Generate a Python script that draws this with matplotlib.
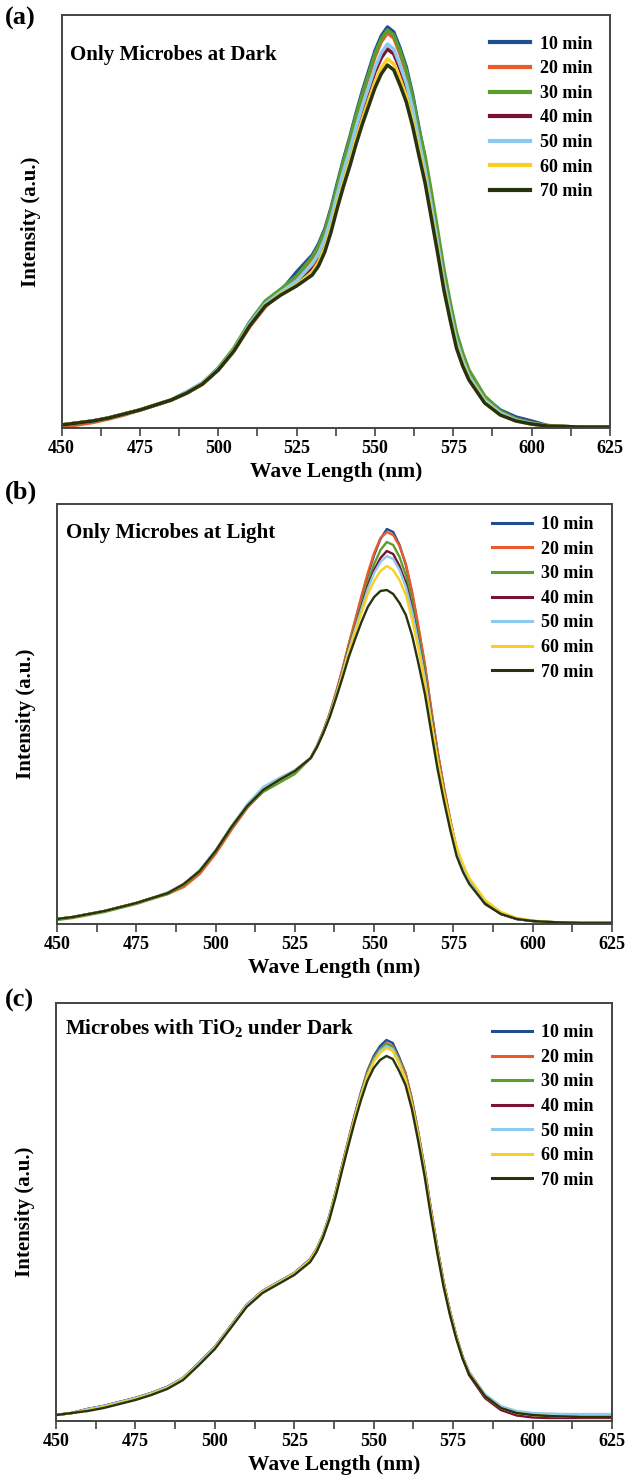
import numpy as np
import matplotlib.pyplot as plt
from matplotlib.ticker import MultipleLocator

plt.rcParams['font.family'] = ['Liberation Serif', 'DejaVu Serif']
plt.rcParams['font.weight'] = 'bold'
plt.rcParams['mathtext.default'] = 'regular'

# wavelength grid (nm)
wavelength = np.array([450, 455, 460, 465, 470, 475, 480, 485, 490, 495, 500, 505, 510, 515, 520, 525,
                       530, 532, 534, 536, 538, 540, 542, 544, 546, 548, 550, 552, 554, 556, 558, 560,
                       562, 564, 566, 568, 570, 572, 574, 576, 578,
                       580, 585, 590, 595, 600, 605, 610, 615, 620, 625])

labels = ['10 min', '20 min', '30 min', '40 min', '50 min', '60 min', '70 min']
colors = ['#1f4e91', '#ec5a2a', '#5a9e2e', '#7a1232', '#8ec9f0', '#f8cf22', '#27330f']

# (a) only microbes at dark
a_10 = [3, 5, 7, 10, 14, 18, 23, 28, 36, 45, 59, 78, 102, 122, 137, 156,
        173, 184, 199, 220, 245, 269, 291, 315, 337, 357, 377, 392, 401, 396, 380, 361, 334, 301, 269, 231, 193, 154, 122, 92, 72,
        56, 31, 18, 11, 7, 2.5, 1.5, 1, 1, 1]
a_20 = [1.5, 3, 5.5, 9, 13, 18, 23, 28, 35, 44, 58, 77, 101, 121, 136, 150,
        170, 180, 195, 216, 241, 265, 286, 310, 332, 351, 371, 386, 395, 390, 374, 355, 329, 297, 265, 228, 190, 151, 120, 90, 70,
        55, 30, 16, 9, 5, 2, 1.5, 1, 1, 1]
a_30 = [3, 5, 7, 10, 14, 18, 23, 28, 36, 45, 60, 80, 106, 127, 139, 152,
        171, 182, 197, 218, 243, 267, 289, 313, 334, 354, 374, 389, 398, 393, 377, 358, 331, 299, 272, 236, 198, 159, 126, 96, 75,
        58, 32, 17, 9, 5, 2.5, 1.5, 1, 1, 1]
a_40 = [3, 5, 7, 10, 14, 18, 23, 28, 35, 44, 58, 77, 102, 123, 135, 145,
        161, 171, 186, 206, 231, 253, 274, 297, 318, 337, 356, 370, 379, 374, 359, 341, 315, 285, 255, 219, 183, 145, 114, 85, 66,
        51, 27, 14, 7.5, 4, 2, 1.5, 1, 1, 1]
a_50 = [3, 5, 7, 10, 14, 18, 23, 28, 36, 45, 59, 78, 104, 124, 136, 147,
        164, 174, 189, 209, 234, 257, 278, 301, 322, 341, 360, 375, 384, 379, 363, 345, 320, 288, 258, 222, 185, 147, 116, 87, 68,
        52, 28, 15, 8, 4.5, 2, 1.5, 1, 1, 1]
a_60 = [3, 5, 7, 10, 14, 18, 23, 28, 35, 44, 58, 77, 102, 122, 134, 143,
        156, 166, 180, 200, 224, 246, 267, 289, 309, 328, 346, 360, 369, 364, 349, 332, 307, 278, 249, 213, 178, 141, 110, 82, 64,
        49, 26, 13.5, 7, 4, 2, 1.5, 1, 1, 1]
a_70 = [3, 5, 7, 10, 14, 18, 23, 28, 35, 44, 58, 77, 102, 122, 133, 142,
        153, 162, 176, 196, 220, 242, 262, 284, 304, 322, 340, 354, 363, 358, 343, 326, 302, 273, 245, 210, 175, 138, 108, 80, 62,
        48, 25, 13, 7, 4, 2, 1.5, 1, 1, 1]

# (b) only microbes at light
b_10 = [5, 7, 10, 13, 17, 21, 26, 31, 40, 53, 73, 97, 118, 134, 144, 153,
        166, 178, 193, 210, 231, 254, 279, 302, 326, 349, 369, 385, 395, 392, 379, 359, 330, 295, 258, 214, 172, 136, 104, 75, 57,
        43, 21, 10, 5, 3, 2, 1.5, 1, 1, 1]
b_20 = [5, 7, 10, 13, 17, 21, 26, 30, 37, 50, 70, 94, 116, 133, 144, 153,
        166, 178, 193, 211, 232, 255, 280, 304, 328, 351, 371, 386, 392, 389, 378, 360, 332, 297, 260, 215, 173, 137, 104, 75, 57,
        43, 21, 10, 5, 3, 2, 1.5, 1, 1, 1]
b_30 = [4, 6, 9, 12, 16, 20, 25, 30, 39, 52, 72, 96, 117, 132, 141, 150,
        166, 178, 193, 209, 230, 252, 277, 298, 321, 342, 360, 374, 382, 379, 367, 349, 321, 288, 252, 209, 168, 133, 102, 74, 56,
        42, 21, 10, 5, 3, 2, 1.5, 1, 1, 1]
b_40 = [5, 7, 10, 13, 17, 21, 26, 31, 40, 53, 73, 97, 118, 134, 144, 153,
        166, 178, 192, 209, 229, 251, 275, 296, 317, 338, 354, 366, 373, 370, 358, 341, 315, 282, 248, 206, 166, 131, 100, 73, 55,
        42, 20, 10, 5, 3, 2, 1.5, 1, 1, 1]
b_50 = [5, 7, 10, 13, 17, 21, 26, 32, 40, 54, 74, 98, 120, 137, 146, 154,
        166, 178, 192, 209, 229, 251, 274, 295, 315, 335, 351, 362, 368, 365, 354, 337, 312, 280, 246, 204, 165, 130, 100, 72, 55,
        42, 20, 10, 5, 3, 2, 1.5, 1, 1, 1]
b_60 = [5, 7, 10, 13, 17, 21, 26, 31, 40, 53, 73, 97, 118, 134, 144, 153,
        166, 177, 192, 208, 228, 249, 272, 292, 311, 330, 343, 353, 358, 354, 344, 329, 304, 274, 241, 201, 164, 131, 102, 77, 60,
        46, 24, 12, 6, 3.5, 2, 1.5, 1, 1, 1]
b_70 = [5, 7, 10, 13, 17, 21, 26, 31, 40, 53, 73, 97, 118, 134, 144, 153,
        166, 177, 191, 207, 226, 246, 267, 285, 302, 317, 327, 333, 334, 330, 321, 309, 288, 260, 230, 192, 155, 123, 94, 68, 52,
        40, 20, 10, 5, 3, 2, 1.5, 1, 1, 1]

# (c) microbes with TiO2 under dark
c_10 = [6, 8, 12, 15, 19, 23, 28, 34, 43, 58, 74, 95, 116, 130, 139, 148,
        162, 172, 186, 205, 229, 255, 281, 306, 329, 350, 365, 375, 381, 378, 364, 348, 322, 289, 253, 212, 174, 139, 110, 85, 64,
        49, 26, 14, 8.5, 6.5, 5, 4.5, 4, 4, 4]
c_20 = [6, 8, 12, 15, 19, 23, 28, 34, 43, 58, 74, 95, 116, 130, 139, 148,
        161, 171, 185, 204, 228, 254, 280, 305, 327, 348, 363, 372, 378, 375, 362, 348, 322, 289, 253, 212, 174, 139, 110, 85, 64,
        49, 26, 14, 8.5, 6.5, 5, 4.5, 4, 4, 4]
c_30 = [6, 8, 12, 15, 19, 23, 28, 34, 43, 58, 74, 95, 116, 130, 139, 148,
        161, 171, 185, 204, 228, 254, 280, 304, 327, 348, 362, 372, 377, 374, 361, 345, 320, 287, 251, 210, 173, 138, 109, 84, 64,
        48, 26, 13.5, 8, 6, 5, 4.5, 4, 4, 4]
c_40 = [6, 8, 12, 15, 19, 23, 28, 34, 43, 58, 74, 95, 116, 130, 139, 148,
        161, 171, 185, 203, 227, 253, 278, 303, 325, 346, 360, 369, 374, 371, 358, 343, 318, 285, 249, 209, 171, 137, 108, 84, 63,
        46, 23, 11, 5.5, 3.5, 3, 3, 3, 3, 3]
c_50 = [6, 8, 12, 15, 19, 23, 28, 34, 43, 58, 74, 95, 116, 130, 139, 148,
        161, 171, 185, 204, 227, 253, 279, 303, 326, 346, 360, 370, 375, 372, 359, 343, 318, 286, 250, 209, 172, 137, 109, 84, 63,
        49, 27, 15, 10, 8, 7.5, 7, 7, 7, 7]
c_60 = [6, 8, 11, 14, 18, 22, 27, 33, 42, 57, 73, 94, 115, 129, 138, 147,
        161, 171, 185, 203, 227, 253, 278, 303, 325, 345, 359, 368, 373, 370, 357, 342, 317, 285, 249, 209, 171, 137, 108, 84, 63,
        48, 25, 13, 8, 6, 5, 4.5, 4, 4, 4]
c_70 = [6, 8, 10, 13, 17, 21, 26, 32, 41, 56, 72, 93, 114, 128, 137, 146,
        159, 169, 183, 201, 224, 250, 275, 299, 321, 340, 353, 361, 365, 362, 350, 336, 312, 280, 245, 205, 168, 134, 106, 82, 62,
        47, 25, 13, 8, 6, 5, 4.5, 4, 4, 4]

W, H = 631, 1481
fig = plt.figure(figsize=(W / 100, H / 100), dpi=100)


def px_axes(left, top, right, bottom):
    return fig.add_axes([left / W, 1 - bottom / H, (right - left) / W, (bottom - top) / H])


def draw_panel(ax, series, ymax, lw, title, letter, letter_y, title_y, leg_y):
    for s, c, lab in zip(series, colors, labels):
        ax.plot(wavelength, s, color=c, lw=lw, label=lab, solid_joinstyle='round')
    ax.set_xlim(450, 625)
    ax.set_ylim(0, ymax)
    ax.xaxis.set_major_locator(MultipleLocator(25))
    ax.xaxis.set_minor_locator(MultipleLocator(12.5))
    ax.tick_params(axis='x', which='both', direction='out', length=5.5, width=1.1,
                   color='#333333', labelsize=13, pad=3)
    ax.set_yticks([])
    for sp in ax.spines.values():
        sp.set_color('#444444')
        sp.set_linewidth(1.4)
    ax.set_xlabel('Wave Length (nm)', fontsize=15.5, fontweight='bold', labelpad=4)
    ax.set_ylabel('Intensity (a.u.)', fontsize=15, fontweight='bold', labelpad=15)
    ax.text(0.016, title_y, title, transform=ax.transAxes, fontsize=15,
            fontweight='bold', va='center', ha='left')
    fig.text(5 / W, 1 - letter_y / H, letter, fontsize=19, fontweight='bold', va='center', ha='left')
    leg = ax.legend(loc='upper right', bbox_to_anchor=(0.987, leg_y), frameon=False,
                    fontsize=13, handlelength=2.2, handletextpad=0.55, labelspacing=0.42,
                    borderaxespad=0.2)
    for line in leg.get_lines():
        line.set_linewidth(lw + 0.5)


ax_a = px_axes(61.5, 15, 610, 428)
draw_panel(ax_a, [a_10, a_20, a_30, a_40, a_50, a_60, a_70], 413, 2.5,
           'Only Microbes at Dark', '(a)', 18, 0.903, 0.976)

ax_b = px_axes(57, 504, 612, 924)
draw_panel(ax_b, [b_10, b_20, b_30, b_40, b_50, b_60, b_70], 420, 1.7,
           'Only Microbes at Light', '(b)', 492, 0.931, 0.997)

ax_c = px_axes(56, 1003, 612, 1421)
draw_panel(ax_c, [c_10, c_20, c_30, c_40, c_50, c_60, c_70], 418, 1.7,
           'Microbes with TiO$_2$ under Dark', '(c)', 1000, 0.940, 0.975)

fig.savefig('out.png', dpi=100)
